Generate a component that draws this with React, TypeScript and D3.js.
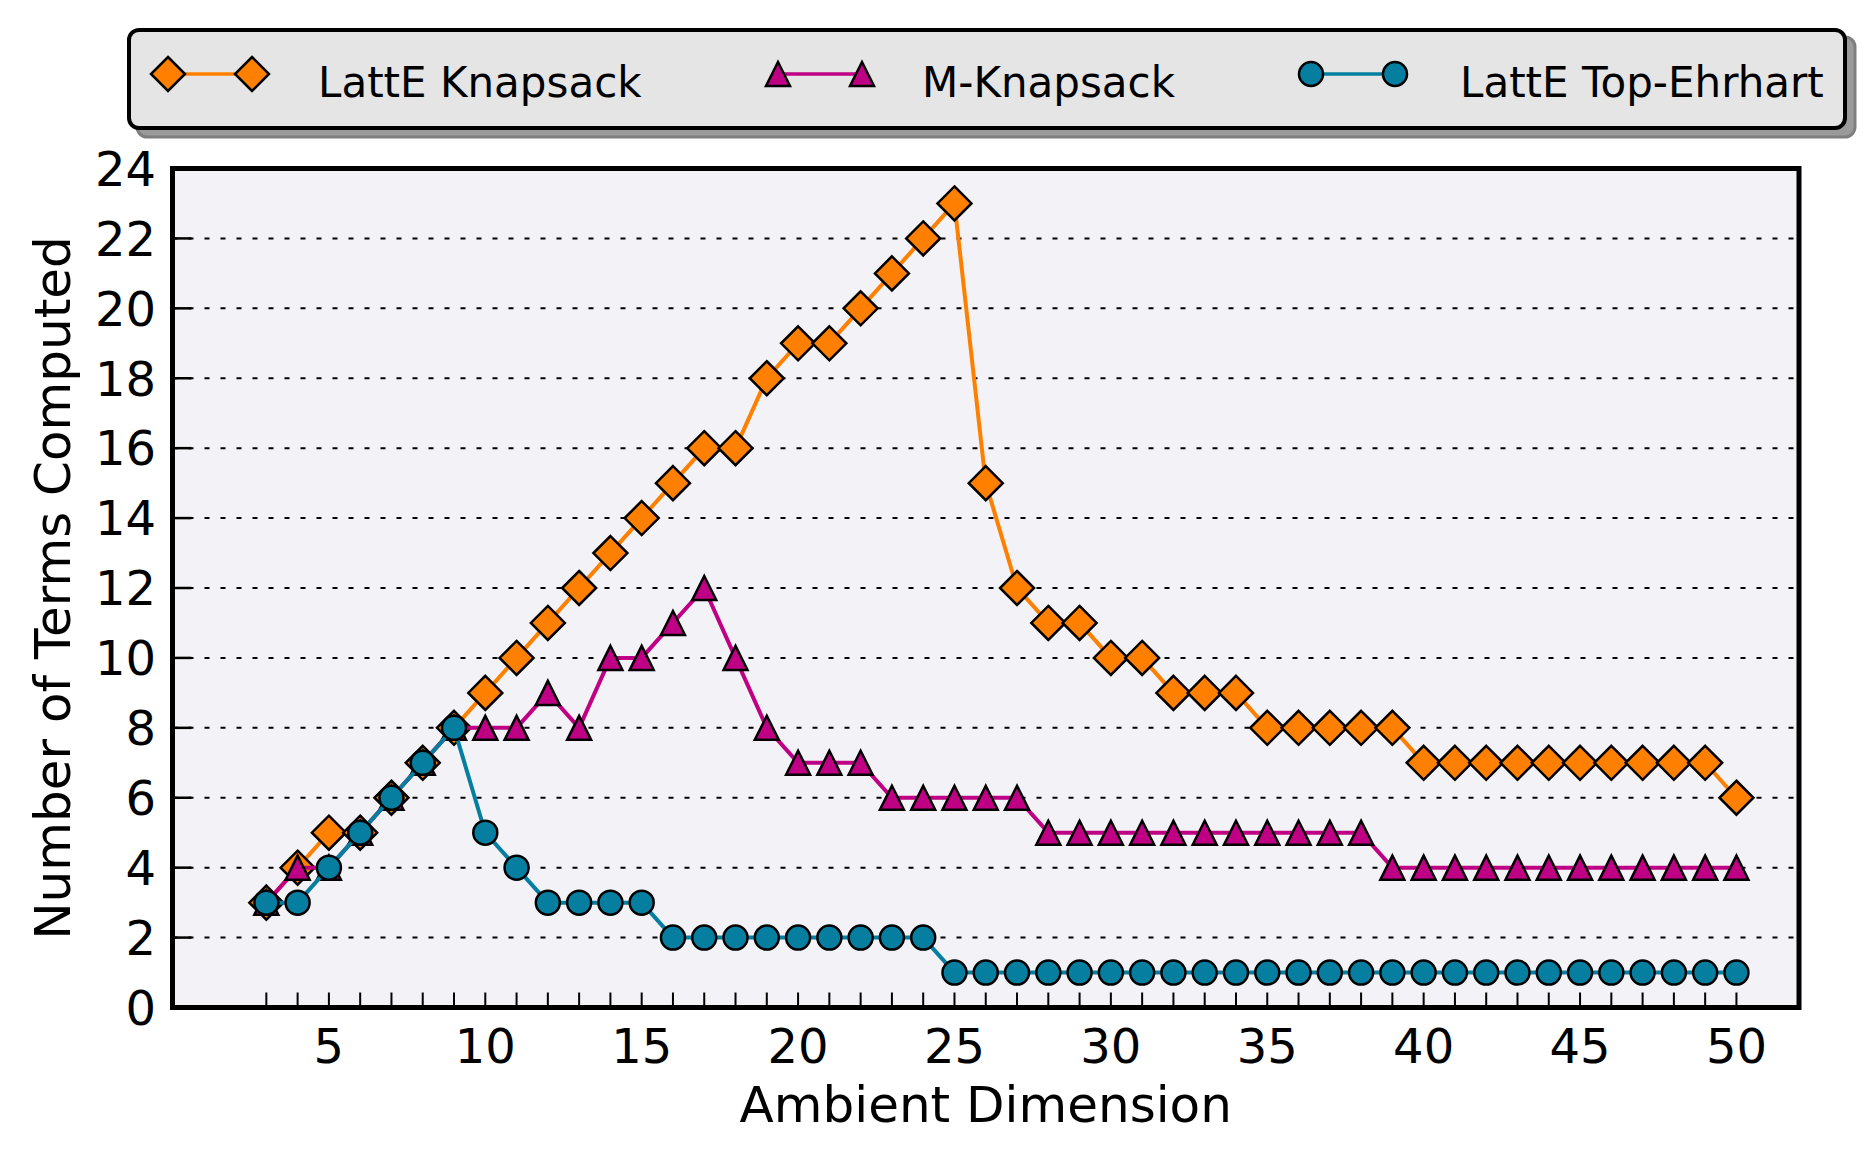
import React from 'react';
import * as d3 from 'd3';

// ---- data ----
const dimensions = [3,4,5,6,7,8,9,10,11,12,13,14,15,16,17,18,19,20,21,22,23,24,25,26,27,28,29,30,31,32,33,34,35,36,37,38,39,40,41,42,43,44,45,46,47,48,49,50];
const latteKnapsack = [3,4,5,5,6,7,8,9,10,11,12,13,14,15,16,16,18,19,19,20,21,22,23,15,12,11,11,10,10,9,9,9,8,8,8,8,8,7,7,7,7,7,7,7,7,7,7,6];
const mKnapsack = [3,4,4,5,6,7,8,8,8,9,8,10,10,11,12,10,8,7,7,7,6,6,6,6,6,5,5,5,5,5,5,5,5,5,5,5,4,4,4,4,4,4,4,4,4,4,4,4];
const latteTopEhrhart = [3,3,4,5,6,7,8,5,4,3,3,3,3,2,2,2,2,2,2,2,2,2,1,1,1,1,1,1,1,1,1,1,1,1,1,1,1,1,1,1,1,1,1,1,1,1,1,1];
const xTickLabels = [5,10,15,20,25,30,35,40,45,50];
const yTickLabels = [0,2,4,6,8,10,12,14,16,18,20,22,24];
const seriesNames = ['LattE Knapsack', 'M-Knapsack', 'LattE Top-Ehrhart'];

// ---- layout ----
const W = 1875, H = 1151;
const L = 172.5, R = 1799, T = 168.5, B = 1007.5;
const FONT = 'DejaVu Sans, sans-serif';

const series = [
  { name: seriesNames[0], values: latteKnapsack, color: '#ff8000', marker: 'diamond' },
  { name: seriesNames[1], values: mKnapsack, color: '#bf0084', marker: 'triangle' },
  { name: seriesNames[2], values: latteTopEhrhart, color: '#057ea0', marker: 'circle' },
];

function Marker({ kind, x, y, color }: { kind: string; x: number; y: number; color: string }) {
  const sw = 2.5;
  if (kind === 'diamond') {
    const s = 17;
    return <path d={`M${x},${y - s}L${x + s},${y}L${x},${y + s}L${x - s},${y}Z`} fill={color} stroke="#000" strokeWidth={sw} strokeLinejoin="miter" />;
  }
  if (kind === 'triangle') {
    const s = 12;
    return <path d={`M${x},${y - s}L${x + s},${y + s}L${x - s},${y + s}Z`} fill={color} stroke="#000" strokeWidth={sw} strokeLinejoin="miter" />;
  }
  return <circle cx={x} cy={y} r={12} fill={color} stroke="#000" strokeWidth={sw} />;
}

export default function App() {
  const x = d3.scaleLinear().domain([0, 52]).range([L, R]);
  const y = d3.scaleLinear().domain([0, 24]).range([B, T]);
  const line = d3.line<number>()
    .x((_, i) => x(dimensions[i]))
    .y((d) => y(d))
    .curve(d3.curveLinear);

  const legendItems = [
    { m1: 168, m2: 252, tx: 318 },
    { m1: 778, m2: 862, tx: 922 },
    { m1: 1311, m2: 1395, tx: 1460 },
  ];
  const legendY = 74;

  return (
    <svg width={W} height={H} viewBox={`0 0 ${W} ${H}`} style={{ position: 'absolute', left: 0, top: 0, background: '#fff' }}>
      {/* plot background */}
      <rect x={L} y={T} width={R - L} height={B - T} fill="#f2f2f7" />
      {/* grid */}
      {yTickLabels.filter((v) => v > 0 && v < 24).map((v) => (
        <line key={'g' + v} x1={L} x2={R} y1={y(v)} y2={y(v)} stroke="#000" strokeWidth={2} strokeDasharray="5 11" />
      ))}
      {/* x ticks (every dimension) */}
      {dimensions.map((d) => (
        <line key={'xt' + d} x1={x(d)} x2={x(d)} y1={B} y2={B - 15} stroke="#000" strokeWidth={2} />
      ))}
      {/* y ticks */}
      {yTickLabels.map((v) => (
        <line key={'yt' + v} x1={L} x2={L + 19} y1={y(v)} y2={y(v)} stroke="#000" strokeWidth={2.5} />
      ))}
      {/* series */}
      {series.map((s) => (
        <g key={s.name}>
          <path d={line(s.values) || ''} fill="none" stroke={s.color} strokeWidth={4} strokeLinejoin="round" />
          {s.values.map((v, i) => (
            <Marker key={i} kind={s.marker} x={x(dimensions[i])} y={y(v)} color={s.color} />
          ))}
        </g>
      ))}
      {/* spines */}
      <rect x={L} y={T} width={R - L} height={B - T} fill="none" stroke="#000" strokeWidth={5} />
      {/* tick labels */}
      {yTickLabels.map((v) => (
        <text key={'yl' + v} x={156} y={y(v)} dy="0.36em" textAnchor="end" fontFamily={FONT} fontSize={48} fill="#000">{v}</text>
      ))}
      {xTickLabels.map((v) => (
        <text key={'xl' + v} x={x(v)} y={1063} textAnchor="middle" fontFamily={FONT} fontSize={48} fill="#000">{v}</text>
      ))}
      {/* axis labels */}
      <text x={(L + R) / 2} y={1122} textAnchor="middle" fontFamily={FONT} fontSize={50} fill="#000">Ambient Dimension</text>
      <text transform={`translate(70,${(T + B) / 2}) rotate(-90)`} textAnchor="middle" fontFamily={FONT} fontSize={50} fill="#000">Number of Terms Computed</text>
      {/* legend */}
      <rect x={137} y={37} width={1718} height={100} rx={10} ry={10} fill="#9a9a9a" stroke="#7f7f7f" strokeWidth={3} />
      <rect x={129} y={30} width={1716} height={98} rx={10} ry={10} fill="#e5e5e5" stroke="#000" strokeWidth={4} />
      {series.map((s, i) => {
        const it = legendItems[i];
        return (
          <g key={'leg' + i}>
            <line x1={it.m1} x2={it.m2} y1={legendY} y2={legendY} stroke={s.color} strokeWidth={3.5} />
            <Marker kind={s.marker} x={it.m1} y={legendY} color={s.color} />
            <Marker kind={s.marker} x={it.m2} y={legendY} color={s.color} />
            <text x={it.tx} y={97} fontFamily={FONT} fontSize={42} fill="#000">{s.name}</text>
          </g>
        );
      })}
    </svg>
  );
}
